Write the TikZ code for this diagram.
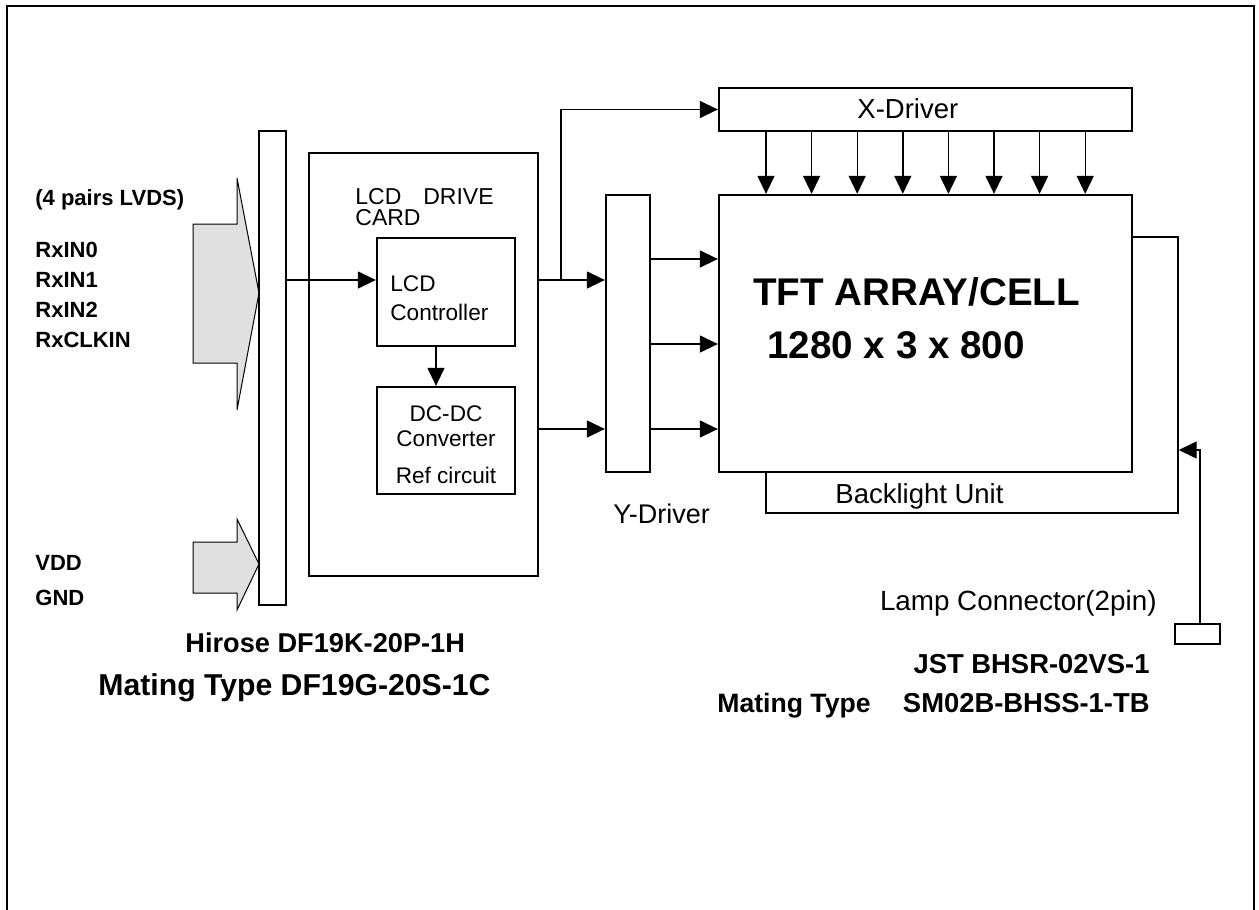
\documentclass[tikz,border=0pt]{standalone}
\usepackage{fontspec}
\setmainfont{Liberation Sans}
\usetikzlibrary{arrows.meta,fit}
\begin{document}
\begin{tikzpicture}[x=0.5pt,y=-0.5pt,
  box/.style={draw, line width=1.15pt, inner sep=0pt},
  thinbox/.style={draw, line width=0.7pt, inner sep=0pt},
  wire/.style={line width=0.7pt},
  arr/.style={line width=0.7pt, -{Triangle[length=9pt,width=8.5pt]}},
  bigarrow/.style={draw, line width=0.5pt, fill=black!12},
  lbl/.style={inner sep=0pt, anchor=base west, font=\fontsize{11}{13}\selectfont\bfseries},
  reg/.style={inner sep=0pt, font=\fontsize{11.3}{14.5}\selectfont},
  mid/.style={inner sep=0pt, font=\fontsize{13.75}{16}\selectfont},
  bold/.style={inner sep=0pt, font=\fontsize{13.7}{16}\selectfont\bfseries},
  huge/.style={inner sep=0pt, anchor=base west, font=\fontsize{19.3}{22}\selectfont\bfseries}
]
\useasboundingbox (0,0) rectangle (1259,910);
% outer frame
\draw[line width=1.25pt] (7,910) -- (7,6) -- (1254,6) -- (1254,910);

% input arrows
\draw[bigarrow] (193,224) -- (237,224) -- (237,178) -- (259,293) -- (237,410) -- (237,363) -- (193,363) -- cycle;
\draw[bigarrow] (193,542) -- (237,542) -- (237,519) -- (259,564) -- (237,610) -- (237,593) -- (193,593) -- cycle;

% boxes
\node[draw, line width=0.6pt, inner sep=0pt, fill=white, fit={(259,131) (286,605)}] (conn) {};
\node[box, fit={(309,153) (538,576)}] (card) {};
\node[box, fit={(377,238) (515,346)}] (ctrl) {};
\node[box, fit={(377,387) (515,494)}] (dcdc) {};
\node[box, fit={(606,195) (650,472)}] (ydrv) {};
\node[box, fit={(719,88) (1132,131)}] (xdrv) {};
\node[thinbox, fit={(766,237) (1178,513)}] (bl) {};
\node[box, fill=white, fit={(719,195) (1132,472)}] (tft) {};
\node[draw, line width=0.6pt, inner sep=0pt, fit={(1175,624) (1220,644)}] (lamp) {};

% left labels
\node[lbl] (lvds) at (35,205) {(4 pairs LVDS)};
\node[lbl] (rx0) at (35,257) {RxIN0};
\node[lbl] (rx1) at (35,287) {RxIN1};
\node[lbl] (rx2) at (35,317) {RxIN2};
\node[lbl] (rxclk) at (35,347) {RxCLKIN};
\node[lbl] (vdd) at (35,570) {VDD};
\node[lbl] (gnd) at (35,605) {GND};

% card texts
\node[reg, anchor=north west, align=left, font=\fontsize{11.5}{10.5}\selectfont] (cardlbl) at (355,188) {LCD\hspace{11pt}DRIVE\\CARD};
\node[reg, anchor=north west, align=left] (ctrllbl) at (390,275) {LCD\\Controller};
\node[reg, anchor=north, align=center, font=\fontsize{11.3}{12.5}\selectfont] (dclbl) at (446,405) {DC-DC\\Converter\\[6pt]Ref circuit};

% driver / panel texts
\node[mid, anchor=base west] (xlbl) at (857,118) {X-Driver};
\node[mid, anchor=base west, font=\fontsize{13.5}{16}\selectfont] (ylbl) at (613,523) {Y-Driver};
\node[mid, anchor=base west] (bllbl) at (835,503) {Backlight Unit};
\node[huge] (tft1) at (753,305) {TFT ARRAY/CELL};
\node[huge] (tft2) at (767,358) {1280 x 3 x 800};
\node[mid, anchor=base east, font=\fontsize{13.9}{16}\selectfont] (lamplbl) at (1157,610) {Lamp Connector(2pin)};

% bottom texts
\node[bold, anchor=base west, font=\fontsize{13.6}{16}\selectfont\bfseries] (hirose) at (185,652) {Hirose DF19K-20P-1H};
\node[bold, anchor=base west, font=\fontsize{15.1}{18}\selectfont\bfseries] (mateL) at (98,695) {Mating Type DF19G-20S-1C};
\node[bold, anchor=base east] (jst) at (1150,673) {JST BHSR-02VS-1};
\node[bold, anchor=base west, font=\fontsize{13.3}{16}\selectfont\bfseries] (mateR) at (717,712) {Mating Type};
\node[bold, anchor=base east] (sm) at (1150,712) {SM02B-BHSS-1-TB};

% connections
\draw[arr] (conn.east |- 0,280) -- (ctrl.west |- 0,280);
\draw[arr] (ctrl.south -| 436,0) -- (dcdc.north -| 436,0);
\draw[arr] (card.east |- 0,280) -- (ydrv.west |- 0,280);
\draw[arr] (card.east |- 0,429) -- (ydrv.west |- 0,429);
\coordinate (br) at (561,280);
\draw[arr] (br) |- (xdrv.west);
\foreach \yy in {259,344,429}
  \draw[arr] (ydrv.east |- 0,\yy) -- (tft.west |- 0,\yy);
\foreach \k in {0,...,7}
  \draw[arr] (xdrv.south -| 766+45.6*\k,0) -- (tft.north -| 766+45.6*\k,0);
\draw[arr] (lamp.north -| 1200,0) |- (bl.east |- 0,450);
\end{tikzpicture}
\end{document}
